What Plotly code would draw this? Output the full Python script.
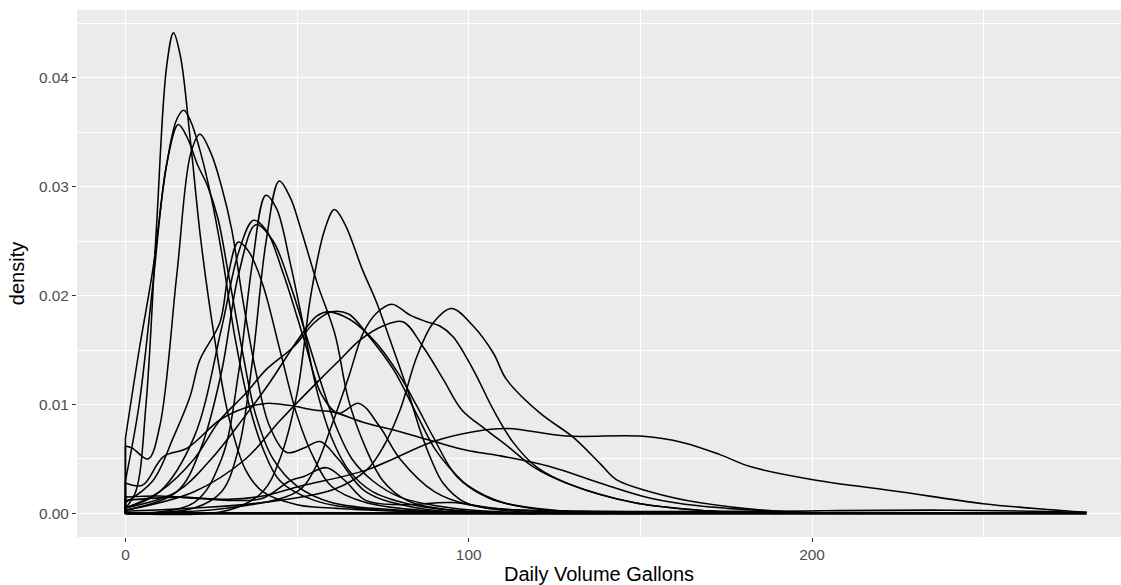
import plotly.graph_objects as go

# ---- data: density curves (x = Daily Volume Gallons, y = density) ----
a_x = [0, 3, 6, 9, 12, 14, 16, 19, 22, 26, 30, 35, 40, 50, 60, 80, 100, 140]
a_y = [0.0005, 0.002, 0.010, 0.026, 0.041, 0.0441, 0.042, 0.034, 0.025, 0.016, 0.009, 0.004, 0.002, 0.0008, 0.0005, 0.0002, 0.00005, 0]

b_x = [0, 4, 8, 12, 15, 17, 19, 22, 25, 28, 32, 36, 40, 45, 55, 70, 100, 150]
b_y = [0.0069, 0.015, 0.0224, 0.032, 0.0362, 0.037, 0.036, 0.033, 0.029, 0.024, 0.016, 0.010, 0.006, 0.003, 0.0012, 0.0004, 0.0001, 0]

c_x = [0, 4, 8, 12, 15.4, 18, 21, 24, 27, 30, 34, 38, 43, 50, 60, 80, 120]
c_y = [0.003, 0.010, 0.021, 0.032, 0.0357, 0.0345, 0.032, 0.0300, 0.027, 0.022, 0.015, 0.009, 0.005, 0.0025, 0.001, 0.0003, 0]

d_x = [0, 2, 6.6, 10, 15, 19, 21.7, 25, 28, 31, 34, 38, 42, 47, 52, 56.7, 62, 70, 85, 110]
d_y = [0.0062, 0.0060, 0.0050, 0.008, 0.022, 0.033, 0.0348, 0.033, 0.030, 0.026, 0.020, 0.013, 0.008, 0.0056, 0.006, 0.0066, 0.005, 0.002, 0.0005, 0]

e_x = [0, 20, 28, 33, 37, 41, 44.8, 48, 51, 56, 61, 65, 70, 75, 82, 95, 115]
e_y = [0, 0.0005, 0.002, 0.006, 0.014, 0.025, 0.0305, 0.0290, 0.0262, 0.021, 0.0165, 0.0104, 0.006, 0.003, 0.0012, 0.0003, 0]

f_x = [0, 20, 28, 33, 37, 40.9, 44, 48, 52, 56, 60, 65, 72, 85, 100, 120]
f_y = [0, 0.001, 0.005, 0.013, 0.023, 0.0292, 0.028, 0.023, 0.017, 0.011, 0.007, 0.004, 0.002, 0.0007, 0.0002, 0]

g_x = [0, 30, 40, 45, 50, 54, 58, 60.9, 64, 69, 73, 77, 82, 86, 89, 92.5, 99, 110, 130]
g_y = [0, 0.0003, 0.002, 0.005, 0.011, 0.020, 0.026, 0.0279, 0.0265, 0.0224, 0.0195, 0.016, 0.0115, 0.0075, 0.005, 0.0028, 0.001, 0.0003, 0]

h_x = [0, 10, 20, 28, 33, 37.3, 41, 46, 52, 57, 62, 68, 74, 80, 90, 100, 120, 150]
h_y = [0.0005, 0.002, 0.007, 0.017, 0.024, 0.0269, 0.026, 0.022, 0.016, 0.011, 0.0092, 0.0101, 0.008, 0.005, 0.002, 0.0008, 0.0002, 0]

i_x = [0, 15, 22, 28, 33, 38, 43, 48, 53, 58, 62, 66, 72, 80, 95, 120]
i_y = [0.0003, 0.002, 0.006, 0.013, 0.022, 0.0265, 0.025, 0.021, 0.016, 0.011, 0.0075, 0.005, 0.003, 0.0015, 0.0005, 0]

j_x = [0, 8, 14, 18.8, 21.7, 27.5, 30, 32.9, 36, 40, 45, 50, 55, 60, 70, 90, 120]
j_y = [0.001, 0.003, 0.007, 0.0107, 0.0141, 0.0175, 0.022, 0.0249, 0.024, 0.021, 0.015, 0.009, 0.005, 0.0025, 0.001, 0.0002, 0]

k_x = [0, 30, 50, 55, 60, 65, 69.3, 73.2, 77.6, 82.9, 87.7, 91.6, 95.5, 101.3, 107.2, 113, 120, 130, 148, 167, 190]
k_y = [0, 0.0005, 0.002, 0.004, 0.008, 0.0125, 0.0166, 0.0184, 0.0192, 0.0182, 0.0176, 0.0172, 0.0162, 0.0132, 0.0095, 0.0065, 0.0042, 0.0026, 0.0010, 0.0003, 0]

l_x = [0, 20, 40, 60.6, 70.3, 75.1, 80, 84.9, 89.7, 95, 101.3, 107.2, 111, 120.8, 130.4, 138.2, 143, 152.8, 167, 190, 210]
l_y = [0.0002, 0.0005, 0.001, 0.0022, 0.004, 0.0061, 0.0095, 0.0144, 0.0175, 0.0188, 0.0172, 0.0147, 0.0123, 0.0092, 0.0070, 0.0046, 0.0031, 0.0020, 0.0010, 0.0002, 0]

m_x = [0, 20, 35, 45, 56.7, 62.5, 68.3, 75, 80.8, 86.7, 92.6, 98, 105, 112, 118.7, 128.4, 148, 167, 190]
m_y = [0.0003, 0.002, 0.005, 0.0085, 0.0123, 0.0141, 0.0159, 0.0172, 0.0176, 0.0153, 0.0123, 0.0095, 0.0077, 0.006, 0.0043, 0.0028, 0.0010, 0.0003, 0]

n_x = [0, 10, 20, 27.6, 35, 41, 49, 55, 60, 65, 70.3, 78.1, 85, 90, 95, 100, 110, 125, 145]
n_y = [0.0005, 0.002, 0.005, 0.0086, 0.011, 0.0132, 0.0153, 0.0175, 0.0185, 0.0183, 0.0165, 0.0132, 0.009, 0.006, 0.004, 0.0025, 0.001, 0.0003, 0]

o_x = [0, 15, 25, 35, 42, 50.8, 55.7, 59, 65.4, 73.2, 80, 85, 89.7, 96.5, 106, 120, 140, 160]
o_y = [0.0005, 0.002, 0.005, 0.009, 0.012, 0.0162, 0.0181, 0.0185, 0.0178, 0.0156, 0.0126, 0.0098, 0.007, 0.0034, 0.0014, 0.0004, 0.0001, 0]

p_x = [0, 5, 11, 18, 27.6, 35, 41, 48, 55, 60.6, 70, 80, 90, 99.4, 109, 123.6, 138.2, 153, 167, 190, 215]
p_y = [0.0028, 0.0026, 0.0052, 0.0060, 0.0086, 0.0097, 0.0101, 0.0099, 0.0095, 0.0093, 0.0083, 0.0075, 0.0066, 0.0058, 0.0053, 0.0043, 0.0028, 0.0014, 0.0007, 0.0002, 0]

q_x = [0, 15, 30, 40, 50.8, 70.3, 89.7, 101.4, 111, 128.5, 149.9, 162.5, 173.2, 182, 200.3, 225.6, 249.9, 280]
q_y = [0.0012, 0.0015, 0.0013, 0.0016, 0.0025, 0.004, 0.0066, 0.0075, 0.0078, 0.0071, 0.0071, 0.0065, 0.0054, 0.0043, 0.0031, 0.0020, 0.0009, 0.0001]

s_x = [0, 10, 20, 30, 40, 48, 52, 58.6, 64, 70, 80, 95, 110, 140, 180, 240, 280]
s_y = [0.0015, 0.0016, 0.0014, 0.0012, 0.0014, 0.0030, 0.0034, 0.0042, 0.0030, 0.0012, 0.0008, 0.0010, 0.0004, 0.0002, 0.0002, 0.0003, 0.0001]

curves = [
    (a_x, a_y), (b_x, b_y), (c_x, c_y), (d_x, d_y), (e_x, e_y), (f_x, f_y),
    (g_x, g_y), (h_x, h_y), (i_x, i_y), (j_x, j_y), (k_x, k_y), (l_x, l_y),
    (m_x, m_y), (n_x, n_y), (o_x, o_y), (p_x, p_y), (q_x, q_y), (s_x, s_y),
]

x_ticks = [0, 100, 200]
y_ticks = [0.00, 0.01, 0.02, 0.03, 0.04]
y_tick_text = ["0.00", "0.01", "0.02", "0.03", "0.04"]

fig = go.Figure()

LW = 1.55
for xs, ys in curves:
    fig.add_trace(go.Scatter(x=xs, y=ys, mode="lines",
                             line=dict(color="black", width=LW, shape="spline", smoothing=1.0),
                             hoverinfo="skip", showlegend=False))

# vertical edges at each curve's left end and the shared baseline (from the data)
vx, vy = [], []
for xs, ys in curves:
    vx += [xs[0], xs[0], None]
    vy += [0, ys[0], None]
fig.add_trace(go.Scatter(x=vx, y=vy, mode="lines", line=dict(color="black", width=LW),
                         hoverinfo="skip", showlegend=False))
x_max = max(max(xs) for xs, _ in curves)
fig.add_trace(go.Scatter(x=[0, x_max], y=[0, 0], mode="lines", line=dict(color="black", width=2.8),
                         hoverinfo="skip", showlegend=False))

font_family = "Liberation Sans, Arial, sans-serif"

fig.update_layout(
    width=1121, height=585,
    margin=dict(l=77, r=0, t=10, b=48),
    paper_bgcolor="white", plot_bgcolor="#EBEBEB",
    font=dict(family=font_family, color="#4D4D4D", size=15),
    showlegend=False,
)

fig.update_xaxes(
    range=[-14.1, 290.0], tickvals=x_ticks, ticktext=[str(v) for v in x_ticks],
    showgrid=True, gridcolor="white", gridwidth=1.45,
    minor=dict(showgrid=True, gridcolor="white", gridwidth=0.7, tick0=0, dtick=50),
    zeroline=False, showline=False,
    ticks="outside", ticklen=4, tickwidth=1.4, tickcolor="#333333",
    tickfont=dict(size=15.4, color="#4D4D4D", family=font_family),
    title=dict(text="Daily Volume Gallons", font=dict(size=20, color="black", family=font_family), standoff=4),
    automargin=False, fixedrange=True,
)
fig.update_yaxes(
    range=[-0.00216, 0.0462], tickvals=y_ticks, ticktext=y_tick_text,
    showgrid=True, gridcolor="white", gridwidth=1.45,
    minor=dict(showgrid=True, gridcolor="white", gridwidth=0.7, tick0=0, dtick=0.005),
    zeroline=False, showline=False,
    ticks="outside", ticklen=4, tickwidth=1.4, tickcolor="#333333",
    tickfont=dict(size=15.4, color="#4D4D4D", family=font_family),
    title=dict(text="density", font=dict(size=20, color="black", family=font_family), standoff=8),
    automargin=False, fixedrange=True,
)

fig.write_html("out.html", config={"displayModeBar": False},
               post_script="document.body.style.margin='0';document.body.style.overflow='hidden';")
